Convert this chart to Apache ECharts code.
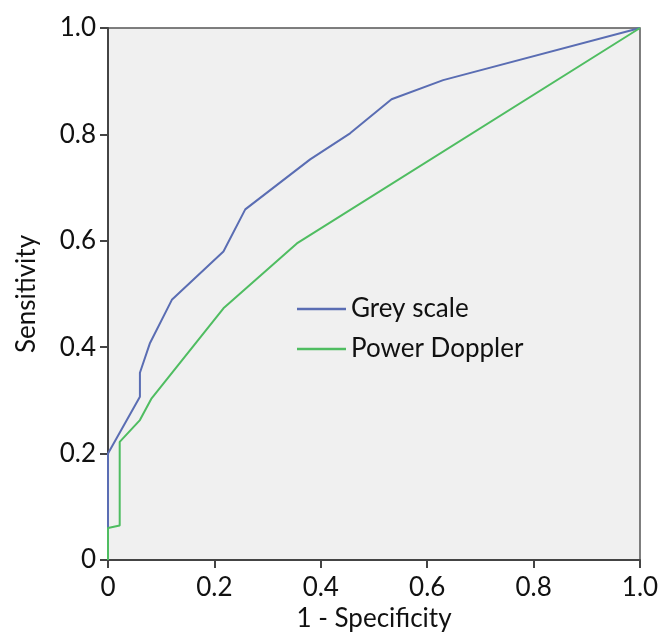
<!DOCTYPE html>
<html>
<head>
<meta charset="utf-8">
<script src="https://cdn.jsdelivr.net/npm/echarts@6/dist/echarts.min.js"></script>
<style>
  html, body { margin: 0; padding: 0; background: #fff; }
  #main { width: 662px; height: 634px; }
</style>
</head>
<body>
<div id="main"></div>
<script>
// ROC 曲线数据 (1 - 特异度, 灵敏度)
var greyX = [0, 0, 0.06, 0.06, 0.079, 0.12, 0.217, 0.258, 0.38, 0.455, 0.533, 0.63, 1.0];
var greyY = [0, 0.2, 0.307, 0.352, 0.408, 0.489, 0.58, 0.659, 0.753, 0.802, 0.866, 0.902, 1.0];
var dopplerX = [0, 0, 0.022, 0.022, 0.06, 0.082, 0.217, 0.355, 1.0];
var dopplerY = [0, 0.06, 0.065, 0.222, 0.263, 0.304, 0.473, 0.595, 1.0];
var seriesNames = ['Grey scale', 'Power Doppler'];
var tickValues = [0, 0.2, 0.4, 0.6, 0.8, 1.0];

var pairs = function(xs, ys) {
	var out = [];
	for(var i = 0; i < xs.length; i++) {
		out.push([xs[i], ys[i]]);
	}
	return out;
};

var fmt = function(v) {
	return v === 0 ? '0' : v.toFixed(1);
};

var fontName = 'Lato';
var fontSize = 26;
var axisColor = '#444';
var greyColor = '#5a6db3';
var dopplerColor = '#4fbd61';

var chart = echarts.init(document.getElementById('main'));
chart.setOption({
	animation: false,
	grid: {
		left: 108,
		right: 22,
		top: 28,
		bottom: 74,
		containLabel: false,
		outerBoundsMode: 'none',
		show: true,
		backgroundColor: '#f0f0f0',
		borderColor: '#555',
		borderWidth: 1.5
	},
	legend: {
		orient: 'vertical',
		left: 292,
		top: 291,
		itemWidth: 49,
		itemHeight: 2.5,
		itemGap: 14,
		textStyle: {
			fontFamily: fontName,
			fontSize: fontSize,
			lineHeight: 26,
			color: '#111'
		},
		data: [{ name: seriesNames[0], icon: 'rect' }, { name: seriesNames[1], icon: 'rect' }]
	},
	xAxis: {
		type: 'value',
		min: 0,
		max: 1,
		interval: 0.2,
		name: '1 - Specificity',
		nameLocation: 'middle',
		nameGap: 45,
		nameTextStyle: { fontFamily: fontName, fontSize: fontSize, color: '#111' },
		axisLine: { show: true, lineStyle: { color: axisColor, width: 2 } },
		axisTick: { show: true, length: 8, lineStyle: { color: axisColor, width: 2 } },
		axisLabel: { formatter: fmt, margin: 15, fontFamily: fontName, fontSize: fontSize, color: '#111' },
		splitLine: { show: false }
	},
	yAxis: {
		type: 'value',
		min: 0,
		max: 1,
		interval: 0.2,
		name: 'Sensitivity',
		nameLocation: 'middle',
		nameGap: 68,
		nameTextStyle: { fontFamily: fontName, fontSize: fontSize, color: '#111' },
		axisLine: { show: true, lineStyle: { color: axisColor, width: 2 } },
		axisTick: { show: true, length: 8, lineStyle: { color: axisColor, width: 2 } },
		axisLabel: { formatter: fmt, margin: 12, fontFamily: fontName, fontSize: fontSize, color: '#111' },
		splitLine: { show: false }
	},
	series: [{
		name: seriesNames[0],
		type: 'line',
		symbol: 'none',
		lineStyle: { color: greyColor, width: 2 },
		itemStyle: { color: greyColor },
		data: pairs(greyX, greyY)
	}, {
		name: seriesNames[1],
		type: 'line',
		symbol: 'none',
		lineStyle: { color: dopplerColor, width: 2 },
		itemStyle: { color: dopplerColor },
		data: pairs(dopplerX, dopplerY)
	}]
});
</script>
</body>
</html>
